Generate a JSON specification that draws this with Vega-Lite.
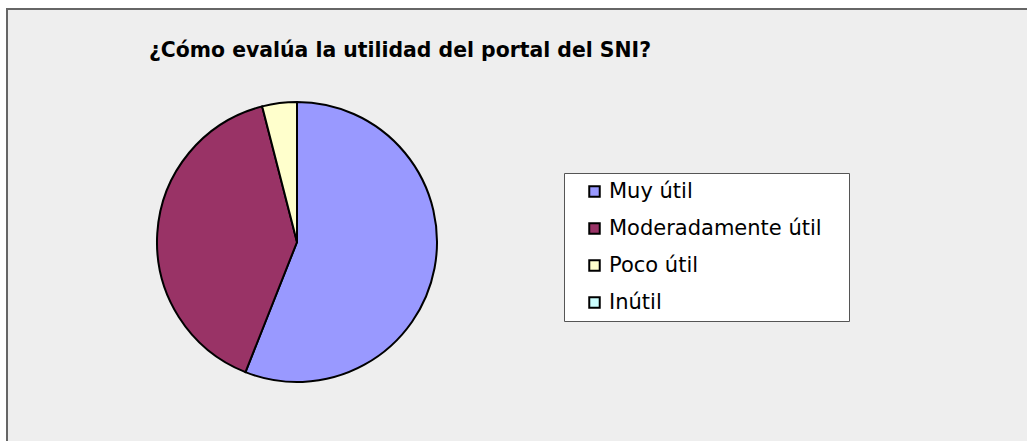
{
  "$schema": "https://vega.github.io/schema/vega-lite/v6.json",
  "width": 1020,
  "height": 432,
  "autosize": {"type": "none"},
  "padding": {"left": 7, "top": 9, "right": 0, "bottom": 0},
  "background": "white",
  "view": {"fill": "#eeeeee", "stroke": "#666666", "strokeWidth": 2, "strokeDash": [1020, 1452, 432]},
  "title": {
    "text": "¿Cómo evalúa la utilidad del portal del SNI?",
    "anchor": "start",
    "frame": "group",
    "orient": "top",
    "offset": 0,
    "baseline": "alphabetic",
    "dx": 142,
    "dy": 68,
    "font": "DejaVu Sans",
    "fontSize": 20.4,
    "fontWeight": "bold",
    "color": "black"
  },
  "data": {
    "values": [
      {"cat": "Muy útil", "pct": 56, "k": 1},
      {"cat": "Moderadamente útil", "pct": 40, "k": 2},
      {"cat": "Poco útil", "pct": 4, "k": 3},
      {"cat": "Inútil", "pct": 0, "k": 4}
    ]
  },
  "layer": [
    {
      "mark": {"type": "point", "opacity": 0},
      "encoding": {
        "x": {"field": "k", "type": "quantitative", "axis": null},
        "y": {"field": "pct", "type": "quantitative", "axis": null}
      }
    },
    {
      "mark": {"type": "arc", "radius": 140, "stroke": "black", "strokeWidth": 2, "x": 290, "y": 233},
      "encoding": {
        "theta": {"field": "pct", "type": "quantitative", "stack": true},
        "order": {"field": "k", "type": "quantitative"},
        "color": {
          "field": "cat",
          "type": "nominal",
          "scale": {
            "domain": ["Muy útil", "Moderadamente útil", "Poco útil", "Inútil"],
            "range": ["#9999ff", "#993366", "#ffffcc", "#ccffff"]
          },
          "legend": {
            "title": " ",
            "titleOrient": "right",
            "titlePadding": 19,
            "titleFontSize": 10,
            "orient": "none",
            "legendX": 557,
            "legendY": 164,
            "fillColor": "white",
            "strokeColor": "#555555",
            "padding": 8,
            "symbolOffset": 12,
            "symbolType": "square",
            "symbolSize": 110,
            "symbolStrokeWidth": 2,
            "symbolStrokeColor": "black",
            "symbolOpacity": 1,
            "labelFont": "DejaVu Sans",
            "labelFontSize": 21,
            "labelColor": "black",
            "labelOffset": 4,
            "rowPadding": 15,
            "labelLimit": 0,
            "encode": {
              "symbols": {
                "update": {
                  "stroke": {"value": "black"},
                  "strokeWidth": {"value": 2}
                }
              }
            }
          }
        }
      }
    }
  ]
}
